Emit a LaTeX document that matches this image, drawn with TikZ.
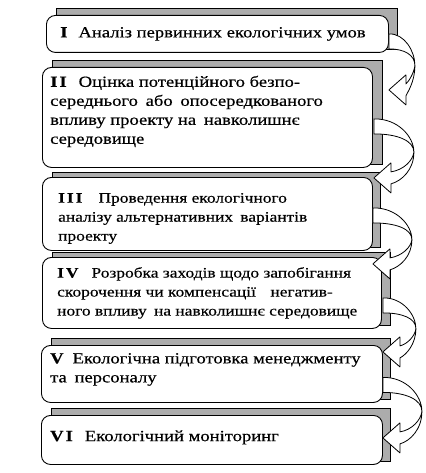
\documentclass[tikz,border=0pt]{standalone}
\usepackage{fontspec}
\setmainfont{Liberation Serif}[FakeStretch=1.2,FakeBold=0.4]
\usetikzlibrary{calc,backgrounds}

\newcommand{\stagenum}[1]{\textbf{#1}}

\tikzset{
  stagebox/.style={draw, line width=0.9pt, rounded corners=9pt, fill=white, anchor=north west, inner sep=0pt},
  stagetext/.style={anchor=west, align=left, inner sep=0pt, font=\fontsize{15.5}{19}\selectfont},
  smalltext/.style={font=\fontsize{14.5}{19}\selectfont},
  stageback/.style={draw, line width=0.9pt, fill=gray!65},
  arrowline/.style={draw, fill=white, line width=0.8pt, line join=round},
  pics/stagearrow/.style 2 args={code={
    \draw[arrowline] (0,-7.5) .. controls ({0.6*#1},-8) and (#1,{0.2*#2}) .. (#1,{0.5*#2})
      .. controls (#1,{0.84*#2}) and ({0.7*#1},{#2+3}) .. (17,{#2+6})
      -- (17,{#2+15}) -- (0,#2) -- (17,{#2-15}) -- (17,{#2-6})
      .. controls ({0.75*#1},{#2-8}) and ({#1-1},{0.66*#2}) .. (#1,{0.5*#2})
      .. controls (#1,{0.28*#2}) and ({0.6*#1},7.5) .. (0,7.5) -- cycle;
  }}
}

\begin{document}
\begin{tikzpicture}[x=1pt,y=-1pt]
  \useasboundingbox (0,0) rectangle (425,473);
  % front boxes
  \node[stagebox, minimum width=342pt, minimum height=37pt] (b1) at (46,15) {};
  \node[stagebox, minimum width=330pt, minimum height=100pt] (b2) at (42,67) {};
  \node[stagebox, minimum width=330pt, minimum height=73pt] (b3) at (42,177) {};
  \node[stagebox, minimum width=339pt, minimum height=71pt] (b4) at (42,257) {};
  \node[stagebox, minimum width=341pt, minimum height=57pt] (b5) at (41,345) {};
  \node[stagebox, minimum width=341pt, minimum height=49pt] (b6) at (41,415) {};
  % gray frames behind
  \begin{scope}[on background layer]
    \draw[stageback] ($(b1.north west)+(10,-7)$) rectangle ($(b1.south east)+(9,-3)$);
    \draw[stageback] ($(b2.north west)+(10,-7)$) rectangle ($(b2.south east)+(10,-3)$);
    \draw[stageback] ($(b3.north west)+(10,-5)$) rectangle ($(b3.south east)+(8,-3)$);
    \draw[stageback] ($(b4.north west)+(10,-5)$) rectangle ($(b4.south east)+(9,-3)$);
    \draw[stageback] ($(b5.north west)+(10,-7)$) rectangle ($(b5.south east)+(8,-3)$);
    \draw[stageback] ($(b6.north west)+(10,-7)$) rectangle ($(b6.south east)+(8,-3)$);
  \end{scope}
  % texts
  \node[stagetext] (t1) at ($(b1.west)+(14,0)$)
    {\stagenum{I}\hspace{11pt}Аналіз первинних екологічних умов};
  \node[stagetext] (t2) at ($(b2.west)+(8,-6)$)
    {\stagenum{I\hspace{2pt}I}\hspace{12pt}Оцінка потенційного безпо-\\
     середнього\enspace або\enspace опосередкованого\\
     впливу проекту на\enspace навколишнє\\
     середовище};
  \node[stagetext, smalltext] (t3) at ($(b3.west)+(16,4.5)$)
    {\stagenum{I\hspace{2pt}I\hspace{2pt}I}\hspace{16pt}Проведення екологічного\\
     аналізу альтернативних\enspace варіантів\\
     проекту};
  \node[stagetext, smalltext] (t4) at ($(b4.west)+(15,0)$)
    {\stagenum{I\hspace{2pt}V}\hspace{13pt}Розробка заходів щодо запобігання\\
     скорочення чи компенсації\quad негатив-\\
     ного впливу\enspace на навколишнє середовище};
  \node[stagetext] (t5) at ($(b5.west)+(9,-4.5)$)
    {\stagenum{V}\hspace{9pt}Екологічна підготовка менеджменту\\
     та\enspace персоналу};
  \node[stagetext] (t6) at ($(b6.west)+(9,-2.5)$)
    {\stagenum{V\hspace{2pt}I}\hspace{12pt}Екологічний моніторинг};
  % curved arrows between stages
  \pic at ($(b1.south east)+(0,-11.5)$) {stagearrow={26}{48.5}};
  \pic at ($(b2.south east)+(1,-41.5)$) {stagearrow={40}{51.5}};
  \pic at ($(b3.south east)+(0,-35.5)$) {stagearrow={39}{48.5}};
  \pic at ($(b4.south east)+(1,-23.5)$) {stagearrow={33}{46.5}};
  \pic at ($(b5.south east)+(0,-18)$) {stagearrow={39}{53}};
\end{tikzpicture}
\end{document}
